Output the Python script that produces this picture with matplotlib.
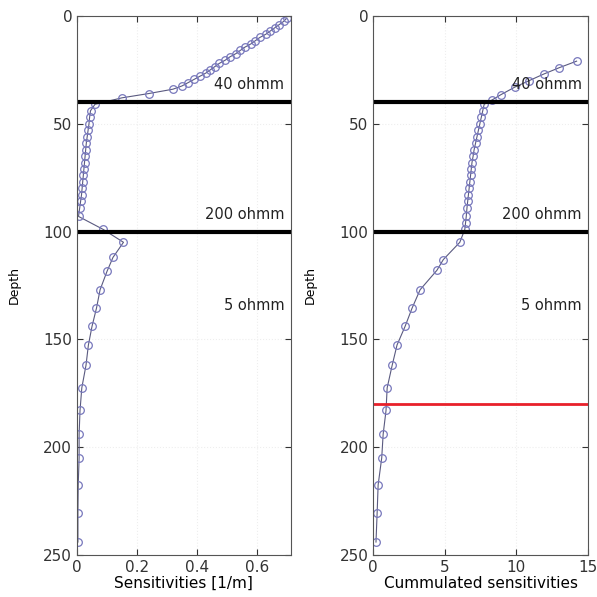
# sensitivity and cumulated sensitivity vs depth for a 3-layer model
import matplotlib
matplotlib.use('Agg')
import matplotlib.pyplot as plt

# depth of each model cell [m]
depth = [1, 2.5, 4, 5.5, 7, 8.5, 10, 11.5, 13, 14.5, 16, 17.5, 19, 20.5, 22,
         23.5, 25, 26.5, 28, 29.5, 31, 32.5, 34, 36, 38,
         41, 44, 47, 50, 53, 56, 59, 62, 65, 68, 71, 74, 77, 80, 83, 86, 89,
         93,
         99, 105, 112, 118.5, 127, 135.5, 144, 152.6, 162, 172.5, 183, 194,
         205, 217.5, 230.5, 244]

# sensitivities [1/m]
sens = [0.70, 0.69, 0.675, 0.66, 0.645, 0.63, 0.61, 0.595, 0.58, 0.56, 0.545,
        0.53, 0.51, 0.495, 0.475, 0.46, 0.445, 0.43, 0.41, 0.39, 0.37, 0.35,
        0.32, 0.24, 0.15,
        0.06, 0.045, 0.042, 0.04, 0.037, 0.034, 0.031, 0.029, 0.027, 0.025,
        0.023, 0.021, 0.019, 0.017, 0.015, 0.012, 0.009,
        0.005,
        0.087, 0.155, 0.12, 0.10, 0.077, 0.065, 0.05, 0.038, 0.03, 0.016,
        0.01, 0.007, 0.007, 0.004, 0.003, 0.003]

# cumulated sensitivities
cum_depth = [21, 24, 27, 30, 33, 36.6, 39,
             41, 44, 47, 50, 53, 56, 59, 62, 65, 68, 71, 74, 77, 80, 83, 86,
             89, 93, 96, 99,
             105, 113, 118, 127, 135.5, 144, 152.6, 162, 172.5, 183, 194,
             205, 217.5, 230.5, 244]
cum = [14.2, 13.0, 11.9, 10.9, 9.9, 8.9, 8.3,
       7.75, 7.65, 7.55, 7.45, 7.35, 7.25, 7.15, 7.05, 6.98, 6.9, 6.85, 6.8,
       6.75, 6.7, 6.65, 6.6, 6.55, 6.5, 6.45, 6.4,
       6.05, 4.9, 4.45, 3.28, 2.72, 2.23, 1.67, 1.33, 0.98, 0.9, 0.7,
       0.6, 0.35, 0.28, 0.2]

boundaries = [40, 100]
layer_labels = ['40 ohmm', '200 ohmm', '5 ohmm']
label_depths = [32, 92, 134.5]
cutoff_depth = 180

fig = plt.figure(figsize=(5.97, 5.97), dpi=100)
ax1 = fig.add_axes([0.129, 0.0704, 0.358, 0.903])
ax2 = fig.add_axes([0.625, 0.0704, 0.360, 0.903])

line_kw = dict(color='#5a5a80', lw=0.8, marker='o', ms=5.5, mfc='none',
               mec='#7878bc', mew=0.9)

ax1.plot(sens, depth, **line_kw)
ax2.plot(cum, cum_depth, **line_kw)

for ax, xmax, xt in [(ax1, 0.713, [0, 0.2, 0.4, 0.6]), (ax2, 15, [0, 5, 10, 15])]:
    for b in boundaries:
        ax.axhline(b, color='black', lw=3)
    for lab, d in zip(layer_labels, label_depths):
        ax.text(0.97 * xmax, d, lab, ha='right', va='center', fontsize=10.5,
                color='#222222')
    ax.set_xlim(0, xmax)
    ax.set_ylim(250, 0)
    ax.set_xticks(xt)
    ax.set_yticks([0, 50, 100, 150, 200, 250])
    ax.set_ylabel('Depth', fontsize=9, labelpad=16)
    ax.tick_params(direction='in', top=True, right=True, labelsize=11,
                   colors='#333333', length=4)
    ax.grid(True, color='#eeeeee', lw=0.8, linestyle=':')
    for s in ax.spines.values():
        s.set_color('#555555')

ax2.axhline(cutoff_depth, color='#e8202a', lw=2)

ax1.set_xticklabels(['0', '0.2', '0.4', '0.6'])
ax1.set_xlabel('Sensitivities [1/m]', fontsize=11, labelpad=1)
ax2.set_xlabel('Cummulated sensitivities', fontsize=11, labelpad=1)

fig.savefig('out.png', dpi=100)
